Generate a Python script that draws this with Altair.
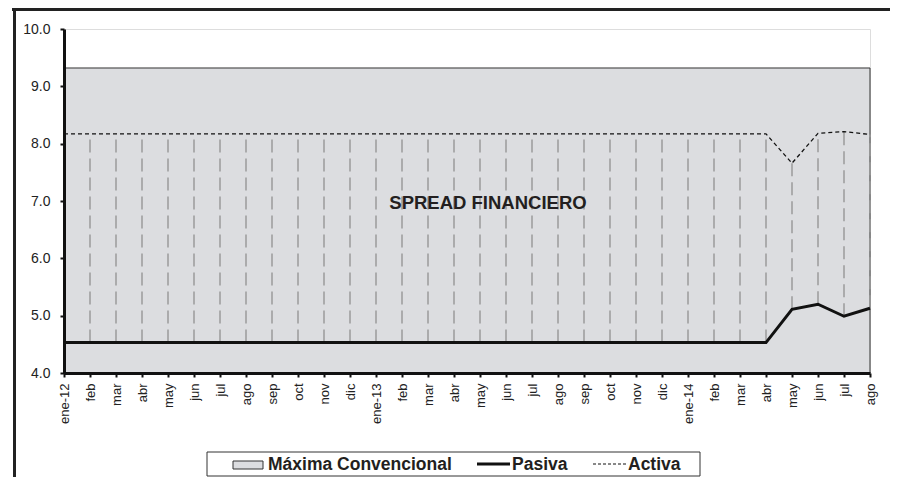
import altair as alt
import pandas as pd

months = ["ene-12", "feb-12", "mar-12", "abr-12", "may-12", "jun-12", "jul-12", "ago-12",
          "sep-12", "oct-12", "nov-12", "dic-12",
          "ene-13", "feb-13", "mar-13", "abr-13", "may-13", "jun-13", "jul-13", "ago-13",
          "sep-13", "oct-13", "nov-13", "dic-13",
          "ene-14", "feb-14", "mar-14", "abr-14", "may-14", "jun-14", "jul-14", "ago-14"]
tick_labels = ["ene-12", "feb", "mar", "abr", "may", "jun", "jul", "ago", "sep", "oct", "nov", "dic",
               "ene-13", "feb", "mar", "abr", "may", "jun", "jul", "ago", "sep", "oct", "nov", "dic",
               "ene-14", "feb", "mar", "abr", "may", "jun", "jul", "ago"]
pasiva = [4.53, 4.53, 4.53, 4.53, 4.53, 4.53, 4.53, 4.53, 4.53, 4.53, 4.53, 4.53,
          4.53, 4.53, 4.53, 4.53, 4.53, 4.53, 4.53, 4.53, 4.53, 4.53, 4.53, 4.53,
          4.53, 4.53, 4.53, 4.53, 5.11, 5.20, 4.99, 5.13]
activa = [8.17, 8.17, 8.17, 8.17, 8.17, 8.17, 8.17, 8.17, 8.17, 8.17, 8.17, 8.17,
          8.17, 8.17, 8.17, 8.17, 8.17, 8.17, 8.17, 8.17, 8.17, 8.17, 8.17, 8.17,
          8.17, 8.17, 8.17, 8.17, 7.66, 8.18, 8.21, 8.16]
maxima = [9.32, 9.32, 9.32, 9.32, 9.32, 9.32, 9.32, 9.32, 9.32, 9.32, 9.32, 9.32,
          9.32, 9.32, 9.32, 9.32, 9.32, 9.32, 9.32, 9.32, 9.32, 9.32, 9.32, 9.32,
          9.32, 9.32, 9.32, 9.32, 9.32, 9.32, 9.32, 9.32]
y_ticks = [4, 5, 6, 7, 8, 9, 10]

df = pd.DataFrame({"mes": months, "pasiva": pasiva, "activa": activa, "maxima": maxima})

FONT = "Liberation Sans"
arr_m = "[" + ",".join("'%s'" % m for m in months) + "]"
arr_l = "[" + ",".join("'%s'" % l for l in tick_labels) + "]"
label_expr = arr_l + "[indexof(" + arr_m + ", datum.value)]"

xaxis = alt.Axis(labelExpr=label_expr, labelAngle=270, labelOverlap=False, title=None,
                 grid=False, domainColor="#111", domainWidth=3, tickColor="#111", tickWidth=2,
                 tickSize=4, labelPadding=6, labelFont=FONT, labelFontSize=13, labelColor="#222",
                 zindex=2)
yaxis = alt.Axis(values=y_ticks, format=".1f", title=None, grid=False, domainColor="#111",
                 domainWidth=3, tickColor="#111", tickWidth=2, tickSize=4, labelPadding=10,
                 labelFont=FONT, labelFontSize=14, labelColor="#222", zindex=2,
                 labelOverlap=False)
xs = alt.Scale(type="point", domain=months, padding=0)
ys = alt.Scale(domain=[4, 10], nice=False, zero=False)

X = alt.X("mes:O", scale=xs, axis=xaxis, sort=months)

base = alt.Chart(df)

area = base.mark_area(fill="#dcdde0", stroke="#333333", strokeWidth=1).encode(
    x=X, y=alt.Y("maxima:Q", scale=ys, axis=yaxis), y2=alt.datum(4))
drops = base.mark_rule(stroke="#9a9a9a", strokeWidth=1.5, strokeDash=[13, 6]).encode(
    x=X, y=alt.Y("pasiva:Q", scale=ys, axis=yaxis), y2="activa:Q")
activa_line = base.mark_line(color="#111", strokeWidth=1.3, strokeDash=[4, 3]).encode(
    x=X, y=alt.Y("activa:Q", scale=ys, axis=yaxis))
pasiva_line = base.mark_line(color="#111", strokeWidth=3).encode(
    x=X, y=alt.Y("pasiva:Q", scale=ys, axis=yaxis))

one = alt.Chart(pd.DataFrame({"a": [0]}))
annot = one.mark_text(text="SPREAD FINANCIERO", font=FONT, fontWeight="bold", fontSize=18.5,
                      color="#231f20", align="center", baseline="middle", dx=8).encode(
    x=alt.datum("may-13"), y=alt.datum(6.96))

# outer frame
frame_left = one.mark_rule(color="#222", strokeWidth=3).encode(
    x=alt.value(-49.5), y=alt.value(-21), y2=alt.value(460))
frame_top = one.mark_rule(color="#222", strokeWidth=3).encode(
    x=alt.value(-52), x2=alt.value(830), y=alt.value(-19.5))

# legend
LFS = 17.5
leg_box = one.mark_rect(fill="white", stroke="#333", strokeWidth=1).encode(
    x=alt.value(143), x2=alt.value(636), y=alt.value(423), y2=alt.value(447))
leg_sw = one.mark_rect(fill="#dcdde0", stroke="#333", strokeWidth=1).encode(
    x=alt.value(169), x2=alt.value(199), y=alt.value(432), y2=alt.value(440))
leg_t1 = one.mark_text(text="Máxima Convencional", font=FONT, fontWeight="bold", fontSize=LFS,
                       color="#231f20", align="left", baseline="alphabetic").encode(
    x=alt.value(204), y=alt.value(441))
leg_l2 = one.mark_rule(color="#111", strokeWidth=3).encode(
    x=alt.value(413), x2=alt.value(446), y=alt.value(435))
leg_t2 = one.mark_text(text="Pasiva", font=FONT, fontWeight="bold", fontSize=LFS,
                       color="#231f20", align="left", baseline="alphabetic").encode(
    x=alt.value(448), y=alt.value(441))
leg_l3 = one.mark_rule(color="#111", strokeWidth=1, strokeDash=[3, 2]).encode(
    x=alt.value(529), x2=alt.value(562), y=alt.value(435))
leg_t3 = one.mark_text(text="Activa", font=FONT, fontWeight="bold", fontSize=LFS,
                       color="#231f20", align="left", baseline="alphabetic").encode(
    x=alt.value(564), y=alt.value(441))

chart = alt.layer(area, drops, activa_line, pasiva_line, annot, frame_left, frame_top,
                  leg_box, leg_sw, leg_t1, leg_l2, leg_t2, leg_l3, leg_t3).properties(
    width=806, height=344, autosize="none",
    padding={"left": 56, "top": 21, "right": 20, "bottom": 104},
).configure_view(stroke="#c4c4c4", strokeWidth=1).configure(background="white")

chart.save("out.html", embed_options={"renderer": "svg", "actions": False})
